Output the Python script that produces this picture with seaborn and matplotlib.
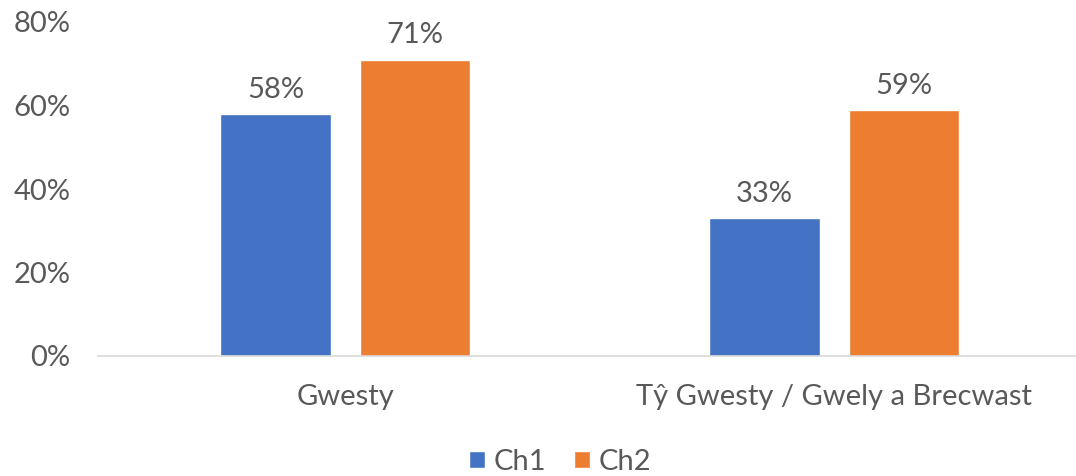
import matplotlib
matplotlib.use("Agg")
import matplotlib.pyplot as plt
import seaborn as sns
import pandas as pd

categories = ["Gwesty", "Tŷ Gwesty / Gwely a Brecwast"]
series = ["Ch1", "Ch2"]
ch1_values = [0.58, 0.33]
ch2_values = [0.71, 0.59]
y_ticks = [0, 0.2, 0.4, 0.6, 0.8]
y_tick_labels = ["0%", "20%", "40%", "60%", "80%"]
colors = ["#4472C4", "#ED7D31"]

df = pd.DataFrame({
    "category": categories * 2,
    "series": [series[0]] * 2 + [series[1]] * 2,
    "value": ch1_values + ch2_values,
})

sns.set_theme(style="white")
plt.rcParams["font.family"] = ["Lato", "DejaVu Sans"]
text_color = "#595959"
fs = 21

fig = plt.figure(figsize=(10.76, 4.76), dpi=100)
ax = fig.add_axes([98 / 1076, 1 - 356 / 476, 1 - 98 / 1076, (356 - 22) / 476])

sns.barplot(data=df, x="category", y="value", hue="series", order=categories,
            hue_order=series, palette=colors, width=0.572, gap=0.213,
            saturation=1, ax=ax, legend=True)

for cont in ax.containers:
    ax.bar_label(cont, labels=[f"{v*100:.0f}%" for v in cont.datavalues],
                 padding=8, fontsize=fs, color=text_color)

ax.set_xlim(-0.506, 1.494)
ax.set_ylim(0, 0.8)
ax.set_yticks(y_ticks)
ax.set_yticklabels(y_tick_labels)
ax.set_xlabel("")
ax.set_ylabel("")
ax.tick_params(axis="y", labelsize=fs, colors=text_color, length=0, pad=20)
ax.tick_params(axis="x", labelsize=fs, colors=text_color, length=0, pad=20)
for s in ["top", "right", "left"]:
    ax.spines[s].set_visible(False)
ax.spines["bottom"].set_color("#D9D9D9")
ax.spines["bottom"].set_linewidth(1.2)
ax.grid(False)

handles, labels = ax.get_legend_handles_labels()
ax.get_legend().remove()
leg = fig.legend(handles, labels, loc="center", bbox_to_anchor=(560 / 1076, 1 - 462 / 476),
                 ncol=2, frameon=False, fontsize=fs, handlelength=0.55,
                 handleheight=0.55, handletextpad=0.3, columnspacing=0.96,
                 borderpad=0, borderaxespad=0)
for t in leg.get_texts():
    t.set_color(text_color)

fig.savefig("out.png", dpi=100)
